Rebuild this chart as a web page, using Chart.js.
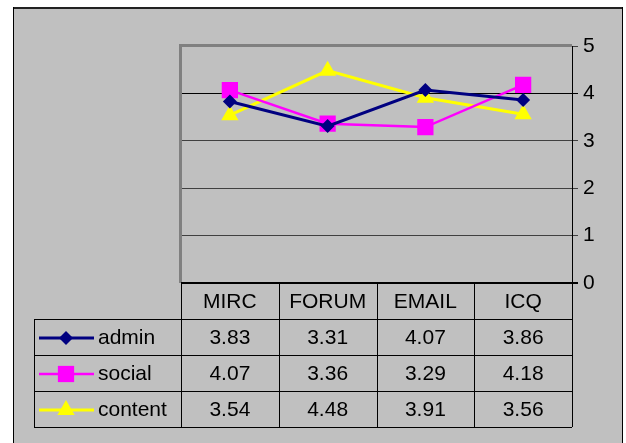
<!DOCTYPE html>
<html>
<head>
<meta charset="UTF-8">
<title>Chart</title>
<script src="https://cdn.jsdelivr.net/npm/chart.js"></script>
<style>
    html, body { margin: 0; padding: 0; background: #fff; }
    #wrap { width: 626px; height: 443px; }
</style>
</head>
<body>
<div id="wrap"><canvas id="c" width="626" height="443"></canvas></div>
<script>
const categories = ['MIRC', 'FORUM', 'EMAIL', 'ICQ'];
const seriesNames = ['admin', 'social', 'content'];
const admin = [3.83, 3.31, 4.07, 3.86];
const social = [4.07, 3.36, 3.29, 4.18];
const content = [3.54, 4.48, 3.91, 3.56];
const yTicks = [0, 1, 2, 3, 4, 5];

const FAMILY = "'Liberation Sans', Arial, sans-serif";
const FONT = "21px " + FAMILY;
const GRAY = '#c0c0c0';

// marker drawn for the legend keys in the data table
function drawMarker(ctx, style, x, y, r, color) {
    ctx.save();
    ctx.fillStyle = color;
    ctx.beginPath();
    if (style === 'rectRot') {
        ctx.moveTo(x - r, y); ctx.lineTo(x, y - r); ctx.lineTo(x + r, y); ctx.lineTo(x, y + r);
    } else if (style === 'rect') {
        const s = r * Math.SQRT1_2;
        ctx.rect(x - s, y - s, 2 * s, 2 * s);
    } else {
        ctx.moveTo(x, y - r); ctx.lineTo(x + r * 0.866, y + r * 0.5); ctx.lineTo(x - r * 0.866, y + r * 0.5);
    }
    ctx.closePath();
    ctx.fill();
    ctx.restore();
}

const background = {
    id: 'background',
    beforeDraw(chart) {
        const ctx = chart.ctx;
        ctx.save();
        ctx.fillStyle = '#fff';
        ctx.fillRect(0, 0, chart.width, chart.height);
        ctx.fillStyle = GRAY;
        ctx.fillRect(13, 7, 610, 436);
        ctx.fillStyle = '#222';
        ctx.fillRect(13, 7, 610, 2);
        ctx.fillStyle = '#000';
        ctx.fillRect(13, 7, 1, 436);
        ctx.fillRect(622, 7, 1, 436);
        ctx.restore();
    }
};

const dataTable = {
    id: 'dataTable',
    afterDraw(chart) {
        const ctx = chart.ctx;
        const area = chart.chartArea;
        const x = chart.scales.x;
        const ds = chart.data.datasets;
        const colW = (area.right - area.left) / categories.length;
        const rowH = 36;
        const top = area.bottom;
        const legendLeft = 34;
        const bottom = top + rowH * (ds.length + 1);

        ctx.save();
        // plot area frame, top and left
        ctx.fillStyle = '#808080';
        ctx.fillRect(area.left - 2, area.top - 2, area.right - area.left + 2, 3);
        ctx.fillRect(area.left - 2, area.top - 2, 3, area.bottom - area.top + 2);

        ctx.strokeStyle = '#000';
        ctx.lineWidth = 1;
        ctx.beginPath();
        ctx.moveTo(area.left, top + 0.5); ctx.lineTo(area.right + 6, top + 0.5);
        for (let i = 0; i <= ds.length; i++) {
            const yy = Math.round(top + rowH * (i + 1)) + 0.5;
            ctx.moveTo(legendLeft, yy); ctx.lineTo(area.right, yy);
        }
        for (let i = 0; i <= categories.length; i++) {
            const xx = Math.round(area.left + colW * i) + 0.5;
            ctx.moveTo(xx, top); ctx.lineTo(xx, bottom);
        }
        ctx.moveTo(legendLeft + 0.5, top + rowH); ctx.lineTo(legendLeft + 0.5, bottom);
        ctx.stroke();
        ctx.fillStyle = '#000';
        ctx.fillRect(area.left, top - 1, area.right - area.left + 6, 2);

        ctx.font = FONT;
        ctx.textBaseline = 'middle';
        ctx.textAlign = 'center';
        ctx.fillStyle = '#000';
        categories.forEach((c, i) => {
            ctx.fillText(c, x.getPixelForValue(i), top + rowH / 2 + 1);
        });
        ds.forEach((d, r) => {
            const cy = top + rowH * (r + 1) + rowH / 2 + 1;
            d.data.forEach((v, i) => {
                ctx.fillText(v.toFixed(2), x.getPixelForValue(i), cy);
            });
            // legend key
            ctx.strokeStyle = d.borderColor;
            ctx.lineWidth = d.borderWidth;
            ctx.beginPath();
            ctx.moveTo(39, cy); ctx.lineTo(94, cy);
            ctx.stroke();
            drawMarker(ctx, d.pointStyle, 66, cy, d.pointRadius, d.backgroundColor);
            ctx.textAlign = 'left';
            ctx.fillStyle = '#000';
            ctx.fillText(d.label, 98, cy);
            ctx.textAlign = 'center';
        });
        ctx.restore();
    }
};

new Chart(document.getElementById('c'), {
    type: 'line',
    data: {
        labels: categories,
        datasets: [
            { label: seriesNames[0], data: admin, borderColor: '#000080', backgroundColor: '#000080',
              borderWidth: 3, pointStyle: 'rectRot', pointRadius: 7, pointBorderWidth: 0 },
            { label: seriesNames[1], data: social, borderColor: '#ff00ff', backgroundColor: '#ff00ff',
              borderWidth: 2.5, pointStyle: 'rect', pointRadius: 11.5, pointBorderWidth: 0 },
            { label: seriesNames[2], data: content, borderColor: '#ffff00', backgroundColor: '#ffff00',
              borderWidth: 3, pointStyle: 'triangle', pointRadius: 10, pointBorderWidth: 0 }
        ]
    },
    options: {
        responsive: false,
        animation: false,
        devicePixelRatio: 1,
        events: [],
        layout: { padding: { left: 181, top: 46, right: 14, bottom: 160 } },
        plugins: { legend: { display: false }, tooltip: { enabled: false } },
        elements: { line: { tension: 0 } },
        scales: {
            x: { display: false, offset: true },
            y: {
                position: 'right',
                min: 0,
                max: 5,
                afterFit(scale) { scale.width = 40; },
                afterBuildTicks(scale) { scale.ticks = yTicks.map(v => ({ value: v })); },
                ticks: { color: '#000', font: { family: FAMILY, size: 21 }, padding: 5 },
                grid: {
                    tickLength: 6,
                    color: ctx => (ctx.tick && ctx.tick.value === 4 ? '#000' : '#404040'),
                    lineWidth: 1
                },
                border: { display: true, color: '#000', width: 1 }
            }
        }
    },
    plugins: [background, dataTable]
});
</script>
</body>
</html>
